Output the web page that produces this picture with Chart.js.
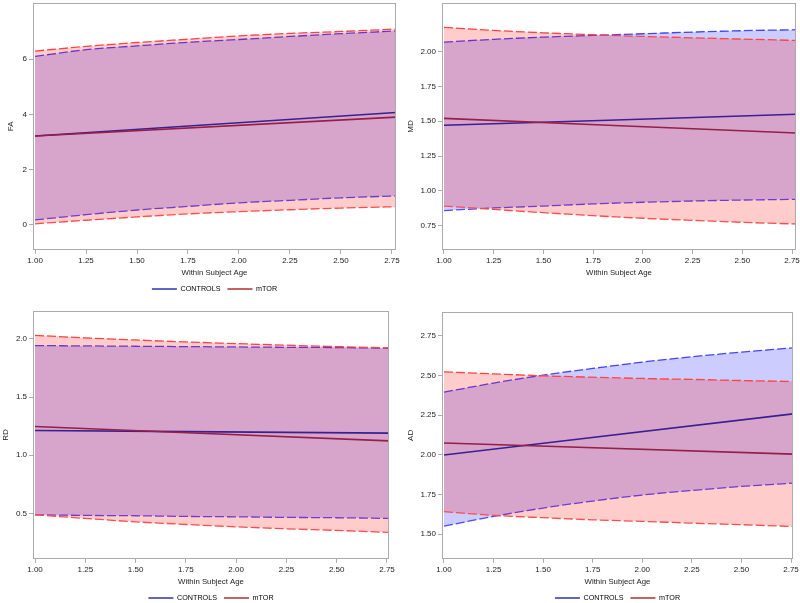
<!DOCTYPE html>
<html>
<head>
<meta charset="utf-8">
<script src="https://cdn.jsdelivr.net/npm/chart.js@4.4.1/dist/chart.umd.min.js"></script>
<style>
  html, body { margin: 0; padding: 0; background: #fff; overflow: hidden; }
  #wrap { position: relative; width: 800px; height: 603px; overflow: hidden; }
  canvas { position: absolute; }
</style>
</head>
<body>
<div id="wrap">
  <canvas id="cFA" style="left:0px;top:0px;"></canvas>
  <canvas id="cMD" style="left:400px;top:0px;"></canvas>
  <canvas id="cRD" style="left:0px;top:300px;"></canvas>
  <canvas id="cAD" style="left:400px;top:300px;"></canvas>
</div>
<script>
// ---------- data ----------
const seriesNames = ['CONTROLS', 'mTOR'];
const xTickLabels = [1.00, 1.25, 1.50, 1.75, 2.00, 2.25, 2.50, 2.75];
const agesTop = [1.00, 1.25, 1.50, 1.75, 2.00, 2.25, 2.50, 2.77];
const agesBottom = [1.00, 1.25, 1.50, 1.75, 2.00, 2.25, 2.50, 2.76];
const meanAgesTop = [1.00, 2.77];
const meanAgesBottom = [1.00, 2.76];

// FA
const faCtrlUpper = [6.10, 6.34, 6.48, 6.61, 6.71, 6.82, 6.92, 7.02];
const faMtorUpper = [6.29, 6.46, 6.60, 6.72, 6.84, 6.93, 7.00, 7.09];
const faCtrlLower = [0.18, 0.37, 0.54, 0.67, 0.80, 0.89, 0.98, 1.05];
const faMtorLower = [0.04, 0.17, 0.29, 0.40, 0.48, 0.55, 0.61, 0.66];
const faCtrlMean = [3.22, 4.07];
const faMtorMean = [3.22, 3.90];
const faTicks = [0, 2, 4, 6];

// MD
const mdCtrlUpper = [2.069, 2.089, 2.105, 2.117, 2.129, 2.141, 2.151, 2.158];
const mdMtorUpper = [2.175, 2.153, 2.136, 2.122, 2.110, 2.100, 2.091, 2.081];
const mdCtrlLower = [0.858, 0.877, 0.891, 0.906, 0.918, 0.927, 0.934, 0.939];
const mdMtorLower = [0.891, 0.867, 0.843, 0.822, 0.803, 0.788, 0.774, 0.762];
const mdCtrlMean = [1.471, 1.550];
const mdMtorMean = [1.521, 1.416];
const mdTicks = [0.75, 1.00, 1.25, 1.50, 1.75, 2.00];

// RD
const rdCtrlUpper = [1.943, 1.940, 1.937, 1.934, 1.931, 1.928, 1.926, 1.920];
const rdMtorUpper = [2.031, 2.009, 1.991, 1.974, 1.960, 1.946, 1.934, 1.923];
const rdCtrlLower = [0.488, 0.483, 0.480, 0.474, 0.471, 0.466, 0.463, 0.457];
const rdMtorLower = [0.488, 0.457, 0.428, 0.405, 0.385, 0.368, 0.354, 0.337];
const rdCtrlMean = [1.213, 1.190];
const rdMtorMean = [1.247, 1.124];
const rdTicks = [0.5, 1.0, 1.5, 2.0];

// AD
const adCtrlUpper = [2.395, 2.452, 2.502, 2.544, 2.584, 2.618, 2.647, 2.674];
const adMtorUpper = [2.523, 2.510, 2.498, 2.489, 2.481, 2.475, 2.468, 2.462];
const adCtrlLower = [1.550, 1.611, 1.664, 1.708, 1.746, 1.775, 1.800, 1.821];
const adMtorLower = [1.641, 1.618, 1.603, 1.590, 1.580, 1.569, 1.559, 1.548];
const adCtrlMean = [1.998, 2.258];
const adMtorMean = [2.074, 2.004];
const adTicks = [1.50, 1.75, 2.00, 2.25, 2.50, 2.75];

// ---------- styling ----------
Chart.defaults.font.family = "'Liberation Sans', Arial, sans-serif";
Chart.defaults.color = '#333';
const FRAME = '#ababab';
const BLUE_DASH = '#4b4bff';
const RED_DASH = '#ff4b4b';
const BLUE_FILL = 'rgba(0,0,255,0.2)';
const RED_FILL = 'rgba(255,0,0,0.2)';
const CTRL_MEAN = '#3a1f90';
const MTOR_MEAN = '#941f48';
const CTRL_LEG = '#3030b0';
const MTOR_LEG = '#b03030';

const framePlugin = {
  id: 'frame',
  afterDraw(chart) {
    const a = chart.chartArea, ctx = chart.ctx;
    ctx.save();
    ctx.strokeStyle = FRAME;
    ctx.lineWidth = 1;
    const l = Math.round(a.left) + 0.5, t = Math.round(a.top) + 0.5;
    const r = Math.round(a.right) - 0.5, b = Math.round(a.bottom) - 0.5;
    ctx.strokeRect(l, t, r - l, b - t);
    ctx.restore();
  }
};

function pts(xs, ys) { return ys.map((y, i) => ({ x: xs[i], y })); }

function makeChart(cfg) {
  const canvas = document.getElementById(cfg.id);
  canvas.width = 400; canvas.height = cfg.height;
  canvas.style.width = '400px'; canvas.style.height = cfg.height + 'px';
  const dash = [9, 3];
  const datasets = [
    { data: pts(cfg.ages, cfg.cu), borderColor: BLUE_DASH, borderWidth: 1.3, borderDash: dash, fill: false, order: 6 },
    { data: pts(cfg.ages, cfg.cl), borderColor: BLUE_DASH, borderWidth: 1.3, borderDash: dash, fill: { target: 0 }, backgroundColor: BLUE_FILL, order: 5 },
    { data: pts(cfg.ages, cfg.mu), borderColor: RED_DASH, borderWidth: 1.3, borderDash: dash, fill: false, order: 4 },
    { data: pts(cfg.ages, cfg.ml), borderColor: RED_DASH, borderWidth: 1.3, borderDash: dash, fill: { target: 2 }, backgroundColor: RED_FILL, order: 3 },
    { label: seriesNames[0], data: pts(cfg.meanAges, cfg.cm), borderColor: CTRL_MEAN, borderWidth: 1.6, fill: false, order: 2 },
    { label: seriesNames[1], data: pts(cfg.meanAges, cfg.mm), borderColor: MTOR_MEAN, borderWidth: 1.6, fill: false, order: 1 }
  ];
  return new Chart(canvas, {
    type: 'line',
    data: { datasets },
    options: {
      responsive: false, animation: false, devicePixelRatio: 1,
      elements: { point: { radius: 0 }, line: { cubicInterpolationMode: 'monotone' } },
      layout: { padding: { left: 0, right: cfg.padRight, top: cfg.padTop, bottom: cfg.padBottom } },
      scales: {
        x: {
          type: 'linear', min: 0.99, max: cfg.xMax,
          border: { display: false },
          grid: { display: true, drawOnChartArea: false, drawTicks: true, tickLength: 4, color: FRAME },
          ticks: { font: { size: 8 }, padding: 2, maxRotation: 0, color: '#222', callback: v => v.toFixed(2) },
          afterBuildTicks: s => { s.ticks = xTickLabels.map(v => ({ value: v })); },
          afterFit: s => { s.height = 28.5; s.paddingLeft = 0; s.paddingRight = 0; },
          title: { display: true, text: 'Within Subject Age', font: { size: 7.8 }, padding: { top: 0, bottom: 0.5 }, color: '#222' }
        },
        y: {
          type: 'linear', min: cfg.yMin, max: cfg.yMax,
          border: { display: false },
          grid: { display: true, drawOnChartArea: false, drawTicks: true, tickLength: 4, color: FRAME },
          ticks: { font: { size: 8 }, padding: 2, color: '#222', callback: v => v.toFixed(cfg.dec) },
          afterBuildTicks: s => { s.ticks = cfg.yTicks.map(v => ({ value: v })); },
          afterFit: s => { s.width = cfg.yWidth; s.paddingTop = 0; s.paddingBottom = 0; },
          title: { display: true, text: cfg.yTitle, font: { size: 8 }, padding: { top: cfg.titlePad, bottom: 0 }, color: '#222' }
        }
      },
      plugins: {
        tooltip: { enabled: false },
        legend: {
          display: cfg.legend, position: 'bottom', fullSize: false,
          labels: {
            usePointStyle: true, pointStyleWidth: 25, boxHeight: 7, padding: 7,
            font: { size: 7.2 }, color: '#222',
            generateLabels: () => [
              { text: seriesNames[0], strokeStyle: CTRL_LEG, fillStyle: CTRL_LEG, lineWidth: 1.5, pointStyle: 'line', hidden: false, datasetIndex: 4 },
              { text: seriesNames[1], strokeStyle: MTOR_LEG, fillStyle: MTOR_LEG, lineWidth: 1.5, pointStyle: 'line', hidden: false, datasetIndex: 5 }
            ]
          }
        }
      }
    },
    plugins: [framePlugin]
  });
}

makeChart({ id: 'cFA', height: 310, ages: agesTop, meanAges: meanAgesTop, xMax: 2.77,
  cu: faCtrlUpper, cl: faCtrlLower, mu: faMtorUpper, ml: faMtorLower, cm: faCtrlMean, mm: faMtorMean,
  yMin: -0.9, yMax: 8.03, yTicks: faTicks, dec: 0, yTitle: 'FA', yWidth: 33, titlePad: 6,
  padRight: 4, padTop: 3, padBottom: 7.5, legend: true });

makeChart({ id: 'cMD', height: 300, ages: agesTop, meanAges: meanAgesTop, xMax: 2.77,
  cu: mdCtrlUpper, cl: mdCtrlLower, mu: mdMtorUpper, ml: mdMtorLower, cm: mdCtrlMean, mm: mdMtorMean,
  yMin: 0.575, yMax: 2.35, yTicks: mdTicks, dec: 2, yTitle: 'MD', yWidth: 42, titlePad: 6,
  padRight: 4, padTop: 3, padBottom: 21.5, legend: false });

makeChart({ id: 'cRD', height: 315, ages: agesBottom, meanAges: meanAgesBottom, xMax: 2.76,
  cu: rdCtrlUpper, cl: rdCtrlLower, mu: rdMtorUpper, ml: rdMtorLower, cm: rdCtrlMean, mm: rdMtorMean,
  yMin: 0.11, yMax: 2.24, yTicks: rdTicks, dec: 1, yTitle: 'RD', yWidth: 33, titlePad: 1,
  padRight: 11, padTop: 11, padBottom: 3.5, legend: true });

makeChart({ id: 'cAD', height: 315, ages: agesBottom, meanAges: meanAgesBottom, xMax: 2.76,
  cu: adCtrlUpper, cl: adCtrlLower, mu: adMtorUpper, ml: adMtorLower, cm: adCtrlMean, mm: adMtorMean,
  yMin: 1.344, yMax: 2.90, yTicks: adTicks, dec: 2, yTitle: 'AD', yWidth: 42, titlePad: 6,
  padRight: 7, padTop: 12, padBottom: 3.5, legend: true });
</script>
</body>
</html>
